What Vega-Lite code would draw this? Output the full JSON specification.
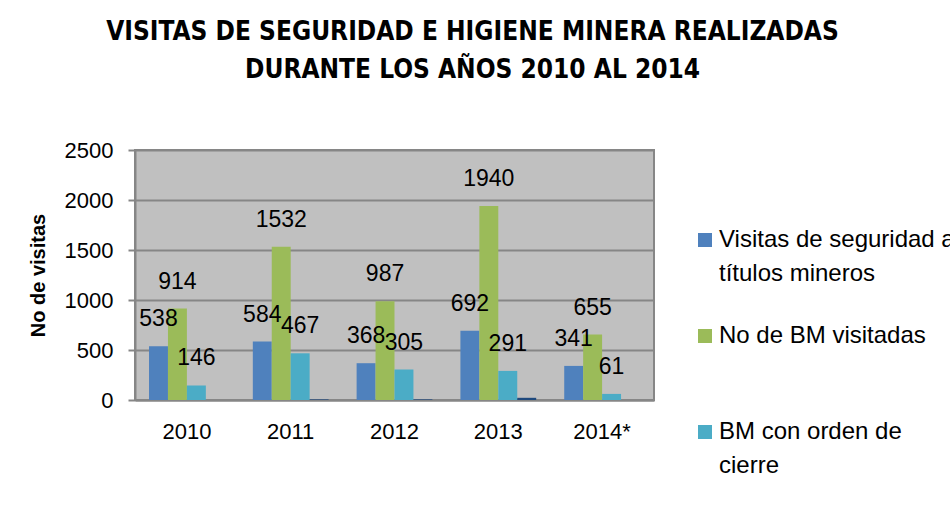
{
  "$schema": "https://vega.github.io/schema/vega-lite/v6.json",
  "width": 519,
  "height": 250,
  "autosize": {"type": "none"},
  "padding": {"left": 135, "top": 150, "right": 296, "bottom": 111},
  "background": "white",
  "title": {
    "text": ["VISITAS DE SEGURIDAD E HIGIENE MINERA REALIZADAS", "DURANTE LOS AÑOS 2010 AL 2014"],
    "font": "DejaVu Sans Condensed",
    "fontSize": 26,
    "fontWeight": "bold",
    "color": "black",
    "anchor": "middle",
    "frame": "group",
    "dx": 78,
    "offset": 56,
    "lineHeight": 38
  },
  "config": {
    "view": {"fill": "#c0c0c0", "stroke": "#868686", "strokeWidth": 2},
    "font": "Liberation Sans",
    "style": {"guide-label": {"lineHeight": 34}}
  },
  "data": {
    "values": [
      {"year": "2010", "serie": "Visitas de seguridad a títulos mineros", "value": 538},
      {"year": "2010", "serie": "No de BM visitadas", "value": 914},
      {"year": "2010", "serie": "BM con orden de cierre", "value": 146},
      {"year": "2010", "serie": "Serie4", "value": 0},
      {"year": "2011", "serie": "Visitas de seguridad a títulos mineros", "value": 584},
      {"year": "2011", "serie": "No de BM visitadas", "value": 1532},
      {"year": "2011", "serie": "BM con orden de cierre", "value": 467},
      {"year": "2011", "serie": "Serie4", "value": 6},
      {"year": "2012", "serie": "Visitas de seguridad a títulos mineros", "value": 368},
      {"year": "2012", "serie": "No de BM visitadas", "value": 987},
      {"year": "2012", "serie": "BM con orden de cierre", "value": 305},
      {"year": "2012", "serie": "Serie4", "value": 6},
      {"year": "2013", "serie": "Visitas de seguridad a títulos mineros", "value": 692},
      {"year": "2013", "serie": "No de BM visitadas", "value": 1940},
      {"year": "2013", "serie": "BM con orden de cierre", "value": 291},
      {"year": "2013", "serie": "Serie4", "value": 22},
      {"year": "2014*", "serie": "Visitas de seguridad a títulos mineros", "value": 341},
      {"year": "2014*", "serie": "No de BM visitadas", "value": 655},
      {"year": "2014*", "serie": "BM con orden de cierre", "value": 61},
      {"year": "2014*", "serie": "Serie4", "value": 0}
    ]
  },
  "encoding": {
    "x": {
      "field": "year",
      "type": "nominal",
      "sort": null,
      "scale": {"paddingInner": 0.27, "paddingOuter": 0.135},
      "axis": {
        "title": null,
        "labelAngle": 0,
        "labelFont": "Liberation Sans",
        "labelFontSize": 22,
        "labelColor": "black",
        "labelPadding": 21,
        "ticks": false,
        "domainColor": "#868686",
        "domainWidth": 2
      }
    },
    "xOffset": {
      "field": "serie",
      "type": "nominal",
      "scale": {
        "domain": ["Visitas de seguridad a títulos mineros", "No de BM visitadas", "BM con orden de cierre", "Serie4"],
        "paddingInner": 0
      }
    },
    "y": {
      "field": "value",
      "type": "quantitative",
      "scale": {"domain": [0, 2500]},
      "axis": {
        "title": "No de visitas",
        "titleFont": "Liberation Sans",
        "titleFontSize": 20,
        "titleFontWeight": "bold",
        "titleColor": "black",
        "titlePadding": 16,
        "values": [0, 500, 1000, 1500, 2000, 2500],
        "format": "d",
        "labelFont": "Liberation Sans",
        "labelFontSize": 22,
        "labelColor": "black",
        "labelPadding": 15,
        "tickSize": 7,
        "tickColor": "#868686",
        "tickWidth": 2,
        "domainColor": "#868686",
        "domainWidth": 2,
        "gridColor": "#868686",
        "gridWidth": 2
      }
    }
  },
  "layer": [
    {
      "transform": [{"filter": "datum.serie !== 'Serie4'"}],
      "mark": {"type": "bar"},
      "encoding": {
        "color": {
          "field": "serie",
          "type": "nominal",
          "scale": {
            "domain": ["Visitas de seguridad a títulos mineros", "No de BM visitadas", "BM con orden de cierre"],
            "range": ["#4f81bd", "#9bbb59", "#4bacc6"]
          },
          "legend": {
            "title": null,
            "orient": "none",
            "legendX": 558,
            "legendY": 78,
            "gridAlign": "all",
            "symbolType": "square",
            "symbolSize": 196,
            "symbolStrokeWidth": 0,
            "labelFont": "Liberation Sans",
            "labelFontSize": 24,
            "labelColor": "black",
            "labelLimit": 400,
            "labelBaseline": "middle",
            "labelOffset": 2,
            "rowPadding": 38,
            "labelExpr": "datum.label === 'Visitas de seguridad a títulos mineros' ? ['Visitas de seguridad a', 'títulos mineros'] : datum.label === 'BM con orden de cierre' ? ['BM con orden de', 'cierre'] : datum.label"
          }
        }
      }
    },
    {
      "transform": [{"filter": "datum.serie === 'Serie4'"}],
      "mark": {"type": "bar", "color": "#1f497d"}
    },
    {
      "transform": [{"filter": "datum.serie !== 'Serie4'"}],
      "mark": {"type": "text", "dy": -27, "font": "Liberation Sans", "fontSize": 23, "color": "black"},
      "encoding": {"text": {"field": "value", "type": "quantitative"}}
    }
  ]
}
